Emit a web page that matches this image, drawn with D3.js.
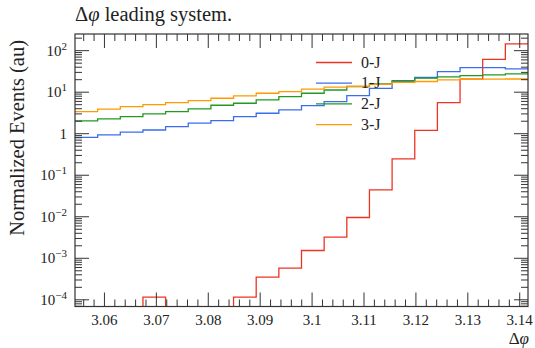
<!DOCTYPE html>
<html>
<head>
<meta charset="utf-8">
<script src="https://cdn.jsdelivr.net/npm/d3@7"></script>
<style>
  html, body { margin: 0; padding: 0; background: #fff; }
  svg { display: block; }
</style>
</head>
<body>
<div id="chart"></div>
<script>
// ── Data ─────────────────────────────────────────────────────────────

// 20 bins covering the last 5 degrees before pi
const X_MIN = Math.PI - 5 * Math.PI / 180;
const X_MAX = Math.PI;
const N_BINS = 20;

const seriesNames = ['0-J', '1-J', '2-J', '3-J'];

const zeroJ = [0, 0, 0, 1.16e-4, 0, 0, 0, 1.16e-4, 3.5e-4, 5.8e-4,
  1.54e-3, 3.23e-3, 9.6e-3, 0.0443, 0.248, 1.21, 5.6, 20.5, 62, 145];
const oneJ = [0.82, 0.935, 1.09, 1.23, 1.48, 1.79, 2.07, 2.58, 3.11, 3.74,
  4.74, 5.93, 8.26, 12.4, 17.9, 22.6, 31.3, 39.0, 39.0, 36.3];
const twoJ = [2.03, 2.27, 2.58, 3.0, 3.4, 3.95, 4.85, 5.42, 6.5, 7.82,
  9.44, 11.3, 13.6, 15.8, 19.0, 21.7, 23.3, 25.0, 26.0, 27.5];
const threeJ = [3.4, 3.89, 4.49, 5.01, 5.61, 6.26, 7.15, 8.12, 9.43, 10.3,
  11.8, 13.2, 13.9, 15.5, 17.2, 18.1, 19.7, 20.5, 20.6, 20.8];

const xTickLabels = ['3.06', '3.07', '3.08', '3.09', '3.1', '3.11', '3.12', '3.13', '3.14'];
const yTickExps = [2, 1, 0, -1, -2, -3, -4];

const COLORS = ['#ee3322', '#3a6cf0', '#229a22', '#ff9a00'];
const FONT = '"Liberation Serif", "DejaVu Serif", "Times New Roman", Times, serif';

// ── Layout ───────────────────────────────────────────────────────────

const W = 535, H = 348;
const M = { top: 34, right: 7, bottom: 41.5, left: 75 };
const MAJOR = 14, MINOR = 7;

const svg = d3.select('#chart').append('svg')
  .attr('width', W).attr('height', H)
  .attr('font-family', FONT)
  .style('font-family', FONT);

const x = d3.scaleLinear().domain([X_MIN, X_MAX]).range([M.left, W - M.right]);
const y = d3.scaleLog().domain([6.9e-5, 252]).range([H - M.bottom, M.top]);

svg.append('defs').append('clipPath').attr('id', 'plot-clip')
  .append('rect')
  .attr('x', M.left).attr('y', M.top)
  .attr('width', W - M.left - M.right)
  .attr('height', H - M.top - M.bottom);

// ── Histograms ───────────────────────────────────────────────────────

const binW = (X_MAX - X_MIN) / N_BINS;
const edges = d3.range(N_BINS + 1).map(i => X_MIN + i * binW);

function stepPoints(vals) {
  const pts = [];
  vals.forEach((v, i) => {
    const yy = y(Math.max(v, 1e-9));
    pts.push([x(edges[i]), yy], [x(edges[i + 1]), yy]);
  });
  return pts;
}

const line = d3.line();
const gHist = svg.append('g').attr('clip-path', 'url(#plot-clip)');
[zeroJ, oneJ, twoJ, threeJ].forEach((vals, k) => {
  gHist.append('path')
    .attr('d', line(stepPoints(vals)))
    .attr('fill', 'none')
    .attr('stroke', COLORS[k])
    .attr('stroke-width', 1.3);
});

// ── Frame + ticks ────────────────────────────────────────────────────

const axisCol = '#333';
const x0 = M.left, x1 = W - M.right, y0 = H - M.bottom, y1 = M.top;
const gAx = svg.append('g').attr('stroke', axisCol).attr('stroke-width', 1);

// x ticks (bottom + top, inward)
const xMinor = d3.range(3.056, X_MAX, 0.002);
xMinor.forEach(v => {
  const isMajor = Math.abs(Math.round(v * 100) - v * 100) < 1e-6;
  const len = isMajor ? MAJOR : MINOR;
  gAx.append('line').attr('x1', x(v)).attr('x2', x(v)).attr('y1', y0).attr('y2', y0 - len);
  gAx.append('line').attr('x1', x(v)).attr('x2', x(v)).attr('y1', y1).attr('y2', y1 + len);
});

// y ticks (left + right, inward)
const dom = y.domain();
for (let e = -5; e <= 2; e++) {
  for (let m = 1; m <= 9; m++) {
    const v = m * Math.pow(10, e);
    if (v < dom[0] || v > dom[1]) continue;
    const len = m === 1 ? MAJOR : MINOR;
    gAx.append('line').attr('x1', x0).attr('x2', x0 + len).attr('y1', y(v)).attr('y2', y(v));
    gAx.append('line').attr('x1', x1).attr('x2', x1 - len).attr('y1', y(v)).attr('y2', y(v));
  }
}

svg.append('rect')
  .attr('x', x0).attr('y', y1)
  .attr('width', x1 - x0).attr('height', y0 - y1)
  .attr('fill', 'none').attr('stroke', axisCol).attr('stroke-width', 1.2);

// ── Tick labels ──────────────────────────────────────────────────────

svg.append('g').selectAll('text')
  .data(xTickLabels)
  .join('text')
  .attr('x', d => x(+d))
  .attr('y', y0 + 18.5)
  .attr('text-anchor', 'middle')
  .attr('font-size', 15)
  .attr('fill', '#222')
  .text(d => d);

const yLab = svg.append('g').selectAll('text')
  .data(yTickExps)
  .join('text')
  .attr('x', 67)
  .attr('y', d => y(Math.pow(10, d)) + 5)
  .attr('text-anchor', 'end')
  .attr('font-size', 15)
  .attr('fill', '#222');

yLab.each(function (d) {
  const t = d3.select(this);
  if (d === 0) { t.text('1'); return; }
  t.append('tspan').text('10');
  t.append('tspan')
    .attr('dy', -6)
    .attr('font-size', 11)
    .text(d < 0 ? '\u2212' + (-d) : String(d));
});

// ── Titles ───────────────────────────────────────────────────────────

const title = svg.append('text')
  .attr('x', 75).attr('y', 21)
  .attr('font-size', 20.5)
  .attr('fill', '#222');
title.append('tspan').text('\u0394');
title.append('tspan').attr('font-style', 'italic').text('\u03c6');
title.append('tspan').text(' leading system.');

// y label is end-aligned near the top of the frame
svg.append('text')
  .attr('transform', 'translate(24,40) rotate(-90)')
  .attr('text-anchor', 'end')
  .attr('font-size', 20.5)
  .attr('fill', '#222')
  .text('Normalized Events (au)');

const xl = svg.append('text')
  .attr('x', x1 + 1).attr('y', 344)
  .attr('text-anchor', 'end')
  .attr('font-size', 17)
  .attr('fill', '#222');
xl.append('tspan').text('\u0394');
xl.append('tspan').attr('font-style', 'italic').text('\u03c6');

// ── Legend ───────────────────────────────────────────────────────────

const leg = svg.append('g').selectAll('g')
  .data(seriesNames)
  .join('g')
  .attr('transform', (d, i) => `translate(316,${62.5 + i * 20.7})`);

leg.append('line')
  .attr('x1', 0).attr('x2', 36)
  .attr('stroke', (d, i) => COLORS[i])
  .attr('stroke-width', 1.3);

leg.append('text')
  .attr('x', 45).attr('y', 5)
  .attr('font-size', 16)
  .attr('fill', '#222')
  .text(d => d);
</script>
</body>
</html>
